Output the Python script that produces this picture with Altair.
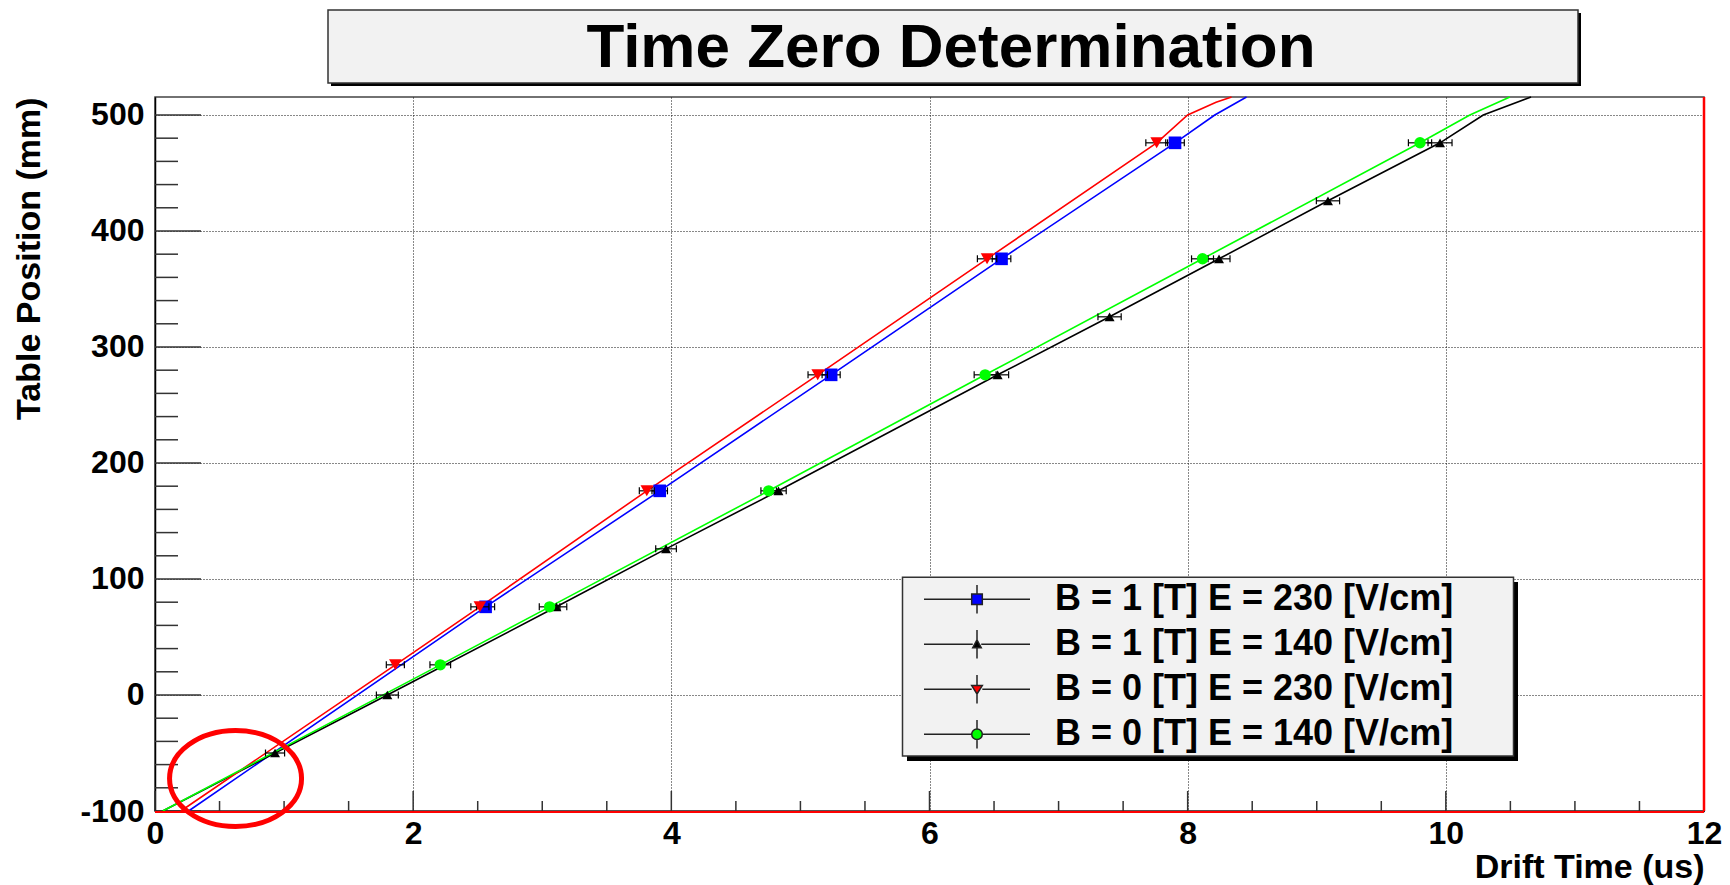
import altair as alt
import pandas as pd

# ---------------- data ----------------
NAMES = ["B = 1 [T] E = 230 [V/cm]", "B = 1 [T] E = 140 [V/cm]",
         "B = 0 [T] E = 230 [V/cm]", "B = 0 [T] E = 140 [V/cm]"]
COLORS = ["#0000ff", "#000000", "#ff0000", "#00ff00"]
SHAPES = ["square", "triangle-up", "triangle-down", "circle"]
SIZES = [160, 100, 160, 130]

# measured points (drift time in us, table position in mm, time error in us)
b1e230_t = [2.561, 3.910, 5.238, 6.558, 7.902]
b1e230_y = [76, 176, 276, 376, 476]
b1e230_e = [0.070, 0.060, 0.070, 0.072, 0.072]

b1e140_t = [0.930, 1.800, 3.110, 3.959, 4.830, 6.528, 7.395, 8.243, 9.087, 9.955]
b1e140_y = [-50, 0, 76, 126, 176, 276, 326, 376, 426, 476]
b1e140_e = [0.074, 0.085, 0.080, 0.080, 0.060, 0.085, 0.090, 0.085, 0.090, 0.093]

b0e230_t = [1.862, 2.517, 3.810, 5.134, 6.446, 7.760]
b0e230_y = [26, 76, 176, 276, 376, 476]
b0e230_e = [0.070, 0.070, 0.058, 0.075, 0.075, 0.084]

b0e140_t = [2.210, 3.057, 4.754, 6.431, 8.115, 9.800]
b0e140_y = [26, 76, 176, 276, 376, 476]
b0e140_e = [0.080, 0.080, 0.060, 0.085, 0.085, 0.090]

# fitted curves (vertices)
b1e230_line_t = [0.26, 2.561, 3.910, 5.238, 6.558, 7.902, 8.21, 8.456]
b1e230_line_y = [-100, 76, 176, 276, 376, 476, 500, 515.5]
b1e140_line_t = [0.06, 0.930, 1.800, 3.110, 3.959, 4.830, 6.528, 7.395, 8.243, 9.087, 9.955, 10.29, 10.66]
b1e140_line_y = [-100, -50, 0, 76, 126, 176, 276, 326, 376, 426, 476, 500, 515.5]
b0e230_line_t = [0.20, 1.862, 2.517, 3.810, 5.134, 6.446, 7.760, 8.00, 8.22, 8.34]
b0e230_line_y = [-100, 26, 76, 176, 276, 376, 476, 500, 511, 515.5]
b0e140_line_t = [0.06, 2.210, 3.057, 4.754, 6.431, 8.115, 9.800, 10.186, 10.496]
b0e140_line_y = [-100, 26, 76, 176, 276, 376, 476, 500, 515.5]

SERIES = [
    (b1e230_t, b1e230_y, b1e230_e, b1e230_line_t, b1e230_line_y),
    (b1e140_t, b1e140_y, b1e140_e, b1e140_line_t, b1e140_line_y),
    (b0e230_t, b0e230_y, b0e230_e, b0e230_line_t, b0e230_line_y),
    (b0e140_t, b0e140_y, b0e140_e, b0e140_line_t, b0e140_line_y),
]

# axis ticks
X_MAJOR = [0, 2, 4, 6, 8, 10, 12]
X_MINOR = [0.5, 1, 1.5, 2.5, 3, 3.5, 4.5, 5, 5.5, 6.5, 7, 7.5, 8.5, 9, 9.5, 10.5, 11, 11.5]
Y_MAJOR = [-100, 0, 100, 200, 300, 400, 500]
Y_MINOR = [-80, -60, -40, -20, 20, 40, 60, 80, 120, 140, 160, 180, 220, 240, 260, 280,
           320, 340, 360, 380, 420, 440, 460, 480]
X_DOMAIN = [0, 12]
Y_DOMAIN = [-100, 515.5]

TITLE = "Time Zero Determination"

# red ellipse annotation (centre in data units)
ring_t = [0.624]
ring_y = [-72]

# ---------------- chart ----------------
FONT = "Liberation Sans"
W, H = 1549, 714

xscale = alt.Scale(domain=X_DOMAIN, nice=False, zero=False)
yscale = alt.Scale(domain=Y_DOMAIN, nice=False, zero=False)

xaxis = alt.Axis(values=X_MAJOR, ticks=False, grid=True, gridDash=[1, 2], gridColor="#111111",
                 gridWidth=1, domain=True, domainColor="#000000", domainWidth=1.5,
                 labelFont=FONT, labelFontWeight="bold", labelFontSize=32, labelColor="black",
                 labelPadding=7, labelFlush=False, labelOverlap=False,
                 labelExpr="toString(datum.value)",
                 title="Drift Time (us)", titleFont=FONT, titleFontWeight="bold",
                 titleFontSize=34, titleColor="black", titleAlign="right",
                 titleBaseline="alphabetic", titleX=W, titleY=66)
yaxis = alt.Axis(values=Y_MAJOR, ticks=False, grid=True, gridDash=[1, 2], gridColor="#111111",
                 gridWidth=1, domain=True, domainColor="#000000", domainWidth=1.5,
                 labelFont=FONT, labelFontWeight="bold", labelFontSize=32, labelColor="black",
                 labelPadding=11, labelFlush=False, labelOverlap=False,
                 labelExpr="toString(datum.value)",
                 title="Table Position (mm)", titleFont=FONT, titleFontWeight="bold",
                 titleFontSize=34, titleColor="black", titleAngle=270, titleAlign="right",
                 titleBaseline="alphabetic", titleX=-116, titleY=0)


def X(f):
    return alt.X(f, type="quantitative", scale=xscale, axis=xaxis)


def Y(f):
    return alt.Y(f, type="quantitative", scale=yscale, axis=yaxis)


one = pd.DataFrame({"k": [0]})
layers = []

# title box with shadow and the title text
layers.append(alt.Chart(one).mark_rect(color="black").encode(
    x=alt.value(176), x2=alt.value(1426), y=alt.value(-84), y2=alt.value(-11)))
layers.append(alt.Chart(one).mark_rect(fill="#f2f2f2", stroke="#333333", strokeWidth=1.5).encode(
    x=alt.value(173), x2=alt.value(1423), y=alt.value(-87), y2=alt.value(-14)))
layers.append(alt.Chart(pd.DataFrame({"txt": [TITLE]})).mark_text(
    font=FONT, fontSize=62, fontWeight="bold", color="black", align="center",
    baseline="alphabetic").encode(text="txt:N", x=alt.value(796), y=alt.value(-30)))

# legend box with shadow
layers.append(alt.Chart(one).mark_rect(color="black").encode(
    x=alt.value(752), x2=alt.value(1363), y=alt.value(485), y2=alt.value(664)))
layers.append(alt.Chart(one).mark_rect(fill="#f2f2f2", stroke="#333333", strokeWidth=1.5).encode(
    x=alt.value(747.5), x2=alt.value(1358.5), y=alt.value(480.3), y2=alt.value(659)))

# inner ticks
layers.append(alt.Chart(pd.DataFrame({"v": Y_MAJOR})).mark_rule(color="#333333", strokeWidth=1.5).encode(
    y=Y("v"), x=alt.value(0), x2=alt.value(46)))
layers.append(alt.Chart(pd.DataFrame({"v": Y_MINOR})).mark_rule(color="#333333", strokeWidth=1.5).encode(
    y=Y("v"), x=alt.value(0), x2=alt.value(23)))
layers.append(alt.Chart(pd.DataFrame({"v": X_MAJOR})).mark_rule(color="#333333", strokeWidth=1.5).encode(
    x=X("v"), y=alt.value(H), y2=alt.value(H - 20)))
layers.append(alt.Chart(pd.DataFrame({"v": X_MINOR})).mark_rule(color="#333333", strokeWidth=1.5).encode(
    x=X("v"), y=alt.value(H), y2=alt.value(H - 10)))

# fitted lines
for (t, y, e, lt, ly), col in zip(SERIES, COLORS):
    d = pd.DataFrame({"t": lt, "y": ly, "o": list(range(len(lt)))})
    layers.append(alt.Chart(d).mark_line(color=col, strokeWidth=1.6).encode(
        x=X("t"), y=Y("y"), order="o:Q"))

# error bars + markers
for (t, y, e, lt, ly), col, shp, sz in zip(SERIES, COLORS, SHAPES, SIZES):
    d = pd.DataFrame({"t": t, "y": y, "lo": [a - b for a, b in zip(t, e)],
                      "hi": [a + b for a, b in zip(t, e)]})
    layers.append(alt.Chart(d).mark_rule(color="black", strokeWidth=1.2).encode(
        x=X("lo"), x2="hi", y=Y("y")))
    for end in ["lo", "hi"]:
        layers.append(alt.Chart(d).mark_point(shape="M0,-1L0,1", size=49, filled=False,
                                              stroke="black", strokeWidth=1.2, opacity=1).encode(
            x=X(end), y=Y("y")))
    layers.append(alt.Chart(d).mark_point(shape=shp, size=sz, filled=True, color=col,
                                          opacity=1, strokeWidth=0).encode(
        x=X("t"), y=Y("y")))

# red frame on bottom and right
layers.append(alt.Chart(pd.DataFrame({"a": [X_DOMAIN[0]], "b": [X_DOMAIN[1]], "y": [Y_DOMAIN[0]]}))
              .mark_rule(color="#ff0000", strokeWidth=2, yOffset=1).encode(x=X("a"), x2="b", y=Y("y")))
layers.append(alt.Chart(pd.DataFrame({"x": [X_DOMAIN[1]], "a": [Y_DOMAIN[0]], "b": [Y_DOMAIN[1]]}))
              .mark_rule(color="#ff0000", strokeWidth=2.5).encode(x=X("x"), y=Y("a"), y2="b"))

# red ring annotation
layers.append(alt.Chart(pd.DataFrame({"t": ring_t, "y": ring_y})).mark_point(
    shape="M-1,0A1,0.727,0,1,0,1,0A1,0.727,0,1,0,-1,0Z", size=17424, filled=False,
    stroke="#ff0000", strokeWidth=5, opacity=1).encode(x=X("t"), y=Y("y")))

# legend (drawn by Vega-Lite from an invisible layer)
LEG_PATHS = [
    "M-1,0H-0.1M0.1,0H1M0,-0.27V-0.1M0,0.1V0.27M-0.1,-0.1H0.1V0.1H-0.1Z",
    "M-1,0H-0.08M0.08,0H1M0,-0.27V-0.09M0,0.07V0.27M0,-0.085L0.08,0.065L-0.08,0.065Z",
    "M-1,0H-0.1M0.1,0H1M0,-0.27V-0.07M0,0.09V0.27M0,0.09L0.1,-0.07L-0.1,-0.07Z",
    "M-1,0H-0.1M0.1,0H1M0,-0.27V-0.1M0,0.1V0.27M-0.1,0A0.1,0.1,0,1,0,0.1,0A0.1,0.1,0,1,0,-0.1,0Z",
]
LEG = alt.Legend(orient="none", legendX=747, legendY=480, padding=0, rowPadding=0,
                 clipHeight=44.5, symbolSize=11236, symbolOffset=21, labelOffset=24,
                 symbolStrokeWidth=1.5, symbolOpacity=1,
                 labelFont=FONT, labelFontSize=36, labelFontWeight="bold", labelColor="black",
                 labelLimit=0, title=None)
leg_df = pd.DataFrame({"series": NAMES, "t": [s[0][0] for s in SERIES], "y": [s[1][0] for s in SERIES]})
layers.append(alt.Chart(leg_df).mark_point(filled=False, opacity=0).encode(
    x=X("t"), y=Y("y"),
    shape=alt.Shape("series:N", scale=alt.Scale(domain=NAMES, range=LEG_PATHS), legend=LEG),
    fill=alt.Fill("series:N", scale=alt.Scale(domain=NAMES, range=COLORS), legend=LEG),
    stroke=alt.Stroke("series:N", scale=alt.Scale(domain=NAMES, range=["#222222"] * 4), legend=LEG)))

chart = alt.layer(*layers).properties(
    width=W, height=H,
    autosize=alt.AutoSizeParams(type="none"),
    padding={"left": 155, "top": 97, "right": 26, "bottom": 74},
    background="white",
).configure_view(stroke="#444444", strokeWidth=1.5)

chart.save("out.html", embed_options={"renderer": "svg", "actions": False})
